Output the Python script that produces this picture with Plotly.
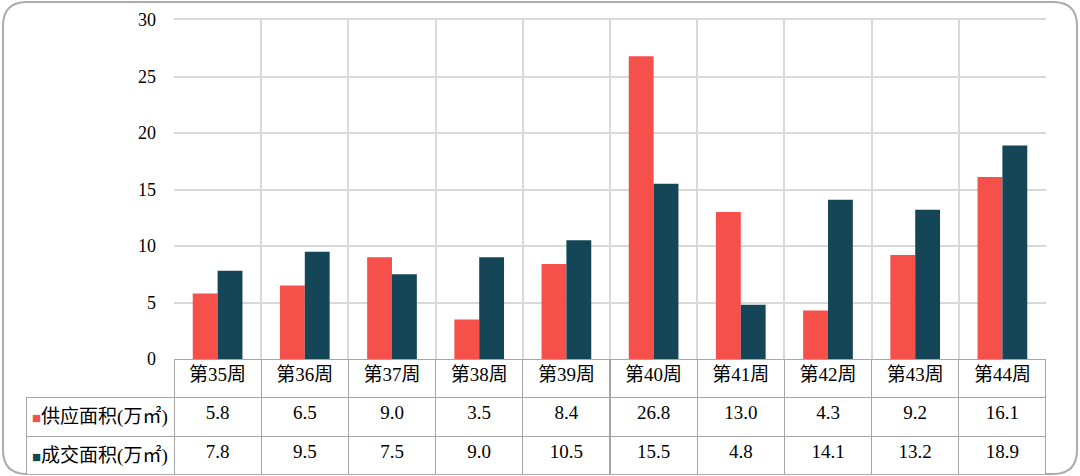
import plotly.graph_objects as go

WEEKS = ['第35周', '第36周', '第37周', '第38周', '第39周', '第40周', '第41周', '第42周', '第43周', '第44周']
SUPPLY = [5.8, 6.5, 9.0, 3.5, 8.4, 26.8, 13.0, 4.3, 9.2, 16.1]
DEALS = [7.8, 9.5, 7.5, 9.0, 10.5, 15.5, 4.8, 14.1, 13.2, 18.9]
SERIES_NAMES = ['供应面积(万㎡)', '成交面积(万㎡)']

RED = '#F5514A'
TEAL = '#154657'
GRID = '#D9D9D9'
TABLE_LINE = '#A6A6A6'
CLEAR = 'rgba(0,0,0,0)'
FONT = 'Liberation Serif, Times New Roman, Noto Sans CJK SC'

W, H = 1080, 476
M = dict(l=26, r=34, t=20, b=1)
PW = W - M['l'] - M['r']
PH = H - M['t'] - M['b']
TABLE_TOP = 359
ROW_H = 39


def px_x(x):
    return (x - M['l']) / PW


def px_y(y):
    return (H - M['b'] - y) / PH


idx = list(range(len(WEEKS)))

fig = go.Figure()
fig.add_trace(go.Bar(x=idx, y=SUPPLY, marker_color=RED, marker_line_width=0, name=SERIES_NAMES[0]))
fig.add_trace(go.Bar(x=idx, y=DEALS, marker_color=TEAL, marker_line_width=0, name=SERIES_NAMES[1]))

cell_values = [['', '']] + [['%.1f' % s, '%.1f' % d] for s, d in zip(SUPPLY, DEALS)]

fig.add_trace(go.Table(
    domain=dict(x=[0, 1], y=[0, px_y(TABLE_TOP)]),
    columnwidth=[148] + [87.2] * len(WEEKS),
    header=dict(
        values=[''] + WEEKS,
        fill_color=[CLEAR] + ['white'] * len(WEEKS),
        line=dict(color=[CLEAR] + [TABLE_LINE] * len(WEEKS), width=1),
        align='center',
        height=38,
        font=dict(family=FONT, size=19, color='black'),
    ),
    cells=dict(
        values=cell_values,
        fill_color='white',
        line=dict(color=TABLE_LINE, width=1),
        align='center',
        height=ROW_H,
        font=dict(family=FONT, size=19, color='black'),
    ),
))

# row labels with coloured legend squares
for i, (name, col) in enumerate(zip(SERIES_NAMES, [RED, TEAL])):
    fig.add_annotation(
        x=px_x(30), y=px_y(TABLE_TOP + 38 + ROW_H * i + ROW_H / 2),
        xref='paper', yref='paper', xanchor='left', yanchor='middle',
        text='<span style="color:%s;font-size:15px">■</span>%s' % (col, name),
        showarrow=False,
        font=dict(family=FONT, size=19, color='black'),
    )

# rounded frame around the whole picture
r = 24
x0, x1, y0, y1 = 3, 1077, 2, 474
pts = [
    ('M', (x0 + r, y0)), ('L', (x1 - r, y0)), ('Q', (x1, y0), (x1, y0 + r)),
    ('L', (x1, y1 - r)), ('Q', (x1, y1), (x1 - r, y1)),
    ('L', (x0 + r, y1)), ('Q', (x0, y1), (x0, y1 - r)),
    ('L', (x0, y0 + r)), ('Q', (x0, y0), (x0 + r, y0)),
]
path = ''
for p in pts:
    path += p[0] + ' ' + ' '.join('%.5f,%.5f' % (px_x(a), px_y(b)) for a, b in p[1:]) + ' '
path += 'Z'
fig.add_shape(type='path', path=path, xref='paper', yref='paper',
              line=dict(color='#ABABAB', width=2), layer='below')

fig.update_layout(
    width=W, height=H,
    margin=M,
    paper_bgcolor='white',
    plot_bgcolor='white',
    showlegend=False,
    barmode='group',
    bargap=0.43,
    bargroupgap=0,
    font=dict(family=FONT, size=18, color='black'),
)
fig.update_xaxes(
    domain=[px_x(174), 1],
    range=[-0.5, len(WEEKS) - 0.5],
    tickvals=[i - 0.5 for i in range(len(WEEKS) + 1)],
    showticklabels=False,
    ticks='',
    showgrid=True, gridcolor=GRID, gridwidth=2,
    showline=True, linecolor=GRID, linewidth=2, mirror=True,
    zeroline=False,
    automargin=False,
)
fig.update_yaxes(
    domain=[px_y(TABLE_TOP), 1],
    range=[0, 30],
    dtick=5,
    showgrid=True, gridcolor=GRID, gridwidth=2,
    zeroline=False,
    showline=False,
    ticks='',
    ticklabelstandoff=17,
    tickfont=dict(family=FONT, size=18, color='black'),
    automargin=False,
)

fig.write_html("out.html", config={'displayModeBar': False},
               post_script="document.body.style.margin='0';")
